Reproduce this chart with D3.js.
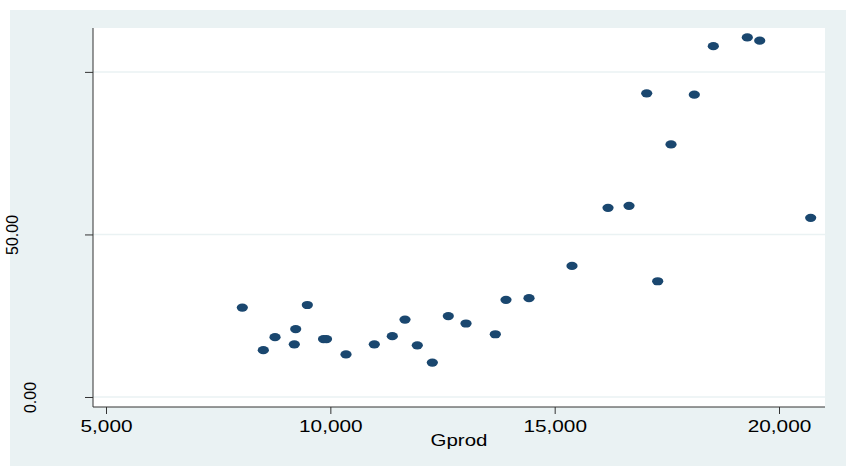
<!DOCTYPE html>
<html><head><meta charset="utf-8">
<script src="https://cdn.jsdelivr.net/npm/d3@7"></script>
<style>body{margin:0;background:#fff}svg{display:block}text{font-family:"Liberation Sans",Arial,sans-serif;fill:#000}</style>
</head><body>
<svg id="c" width="846" height="466"></svg>
<script>
const gprod = [8038,8506,8767,9197,9228,9487,9848,9915,10349,10980,11381,11664,11938,12273,12629,13024,13677,13915,14428,15386,16189,16657,17296,17051,17593,18112,18536,19293,19570,20706];
const yVal  = [27.5,14.4,18.4,16.2,20.9,28.3,17.8,17.8,13.1,16.2,18.7,23.8,15.9,10.6,24.9,22.6,19.3,29.9,30.4,40.3,58.2,58.8,35.6,93.4,77.7,93.0,107.9,110.6,109.6,55.1];
const xTicks = [5000,10000,15000,20000];
const xTickLabels = ["5,000","10,000","15,000","20,000"];
const yTicks = [0,50,100];
const yTickLabels = ["0.00","50.00",""];
const xTitle = "Gprod";

const svg = d3.select("#c");
svg.append("rect").attr("x",10).attr("y",10).attr("width",836).attr("height",456).attr("fill","#eaf2f3");
const L=93,R=825,T=28,B=407;
svg.append("rect").attr("x",L).attr("y",T).attr("width",R-L).attr("height",B-T).attr("fill","#fff");
const x = d3.scaleLinear().domain([4710,21025]).range([L,R]);
const y = d3.scaleLinear().domain([-3.08,113.5]).range([B,T]);

// gridlines
svg.append("g").selectAll("line").data(yTicks).join("line")
  .attr("x1",L).attr("x2",R).attr("y1",d=>y(d)).attr("y2",d=>y(d))
  .attr("stroke","#eaf2f3").attr("stroke-width",1.5);

// y axis
const ya = svg.append("g").attr("transform",`translate(${L},0)`)
  .call(d3.axisLeft(y).tickValues(yTicks).tickFormat((d,i)=>yTickLabels[i]).tickSize(8).tickPadding(0));
ya.select(".domain").attr("d",`M0,${T}V${B}`).attr("stroke","#333");
ya.selectAll(".tick line").attr("stroke","#333");
ya.selectAll(".tick text").attr("font-size",16).attr("text-anchor","middle")
  .attr("x",0).attr("dy",0).attr("y",0)
  .attr("transform",(d,i)=>`translate(${(i===0?36:18)-L},0) rotate(-90)`);

// x axis
const xa = svg.append("g").attr("transform",`translate(0,${B})`)
  .call(d3.axisBottom(x).tickValues(xTicks).tickFormat((d,i)=>xTickLabels[i]).tickSize(7).tickPadding(0));
xa.select(".domain").attr("d",`M${L},0H${R}`).attr("stroke","#333");
xa.selectAll(".tick line").attr("stroke","#333");
xa.selectAll(".tick text").attr("font-size",16).attr("dy",0).attr("y",0)
  .attr("transform","translate(0,25) scale(1.3,1)");

svg.append("text").attr("font-size",16).attr("text-anchor","middle")
  .attr("transform",`translate(${(L+R)/2},446) scale(1.28,1)`).text(xTitle);

// points
svg.append("g").selectAll("ellipse").data(gprod).join("ellipse")
  .attr("cx",d=>x(d)).attr("cy",(d,i)=>y(yVal[i])).attr("rx",5.6).attr("ry",4.1)
  .attr("fill","#1a476f");
</script>
</body></html>
